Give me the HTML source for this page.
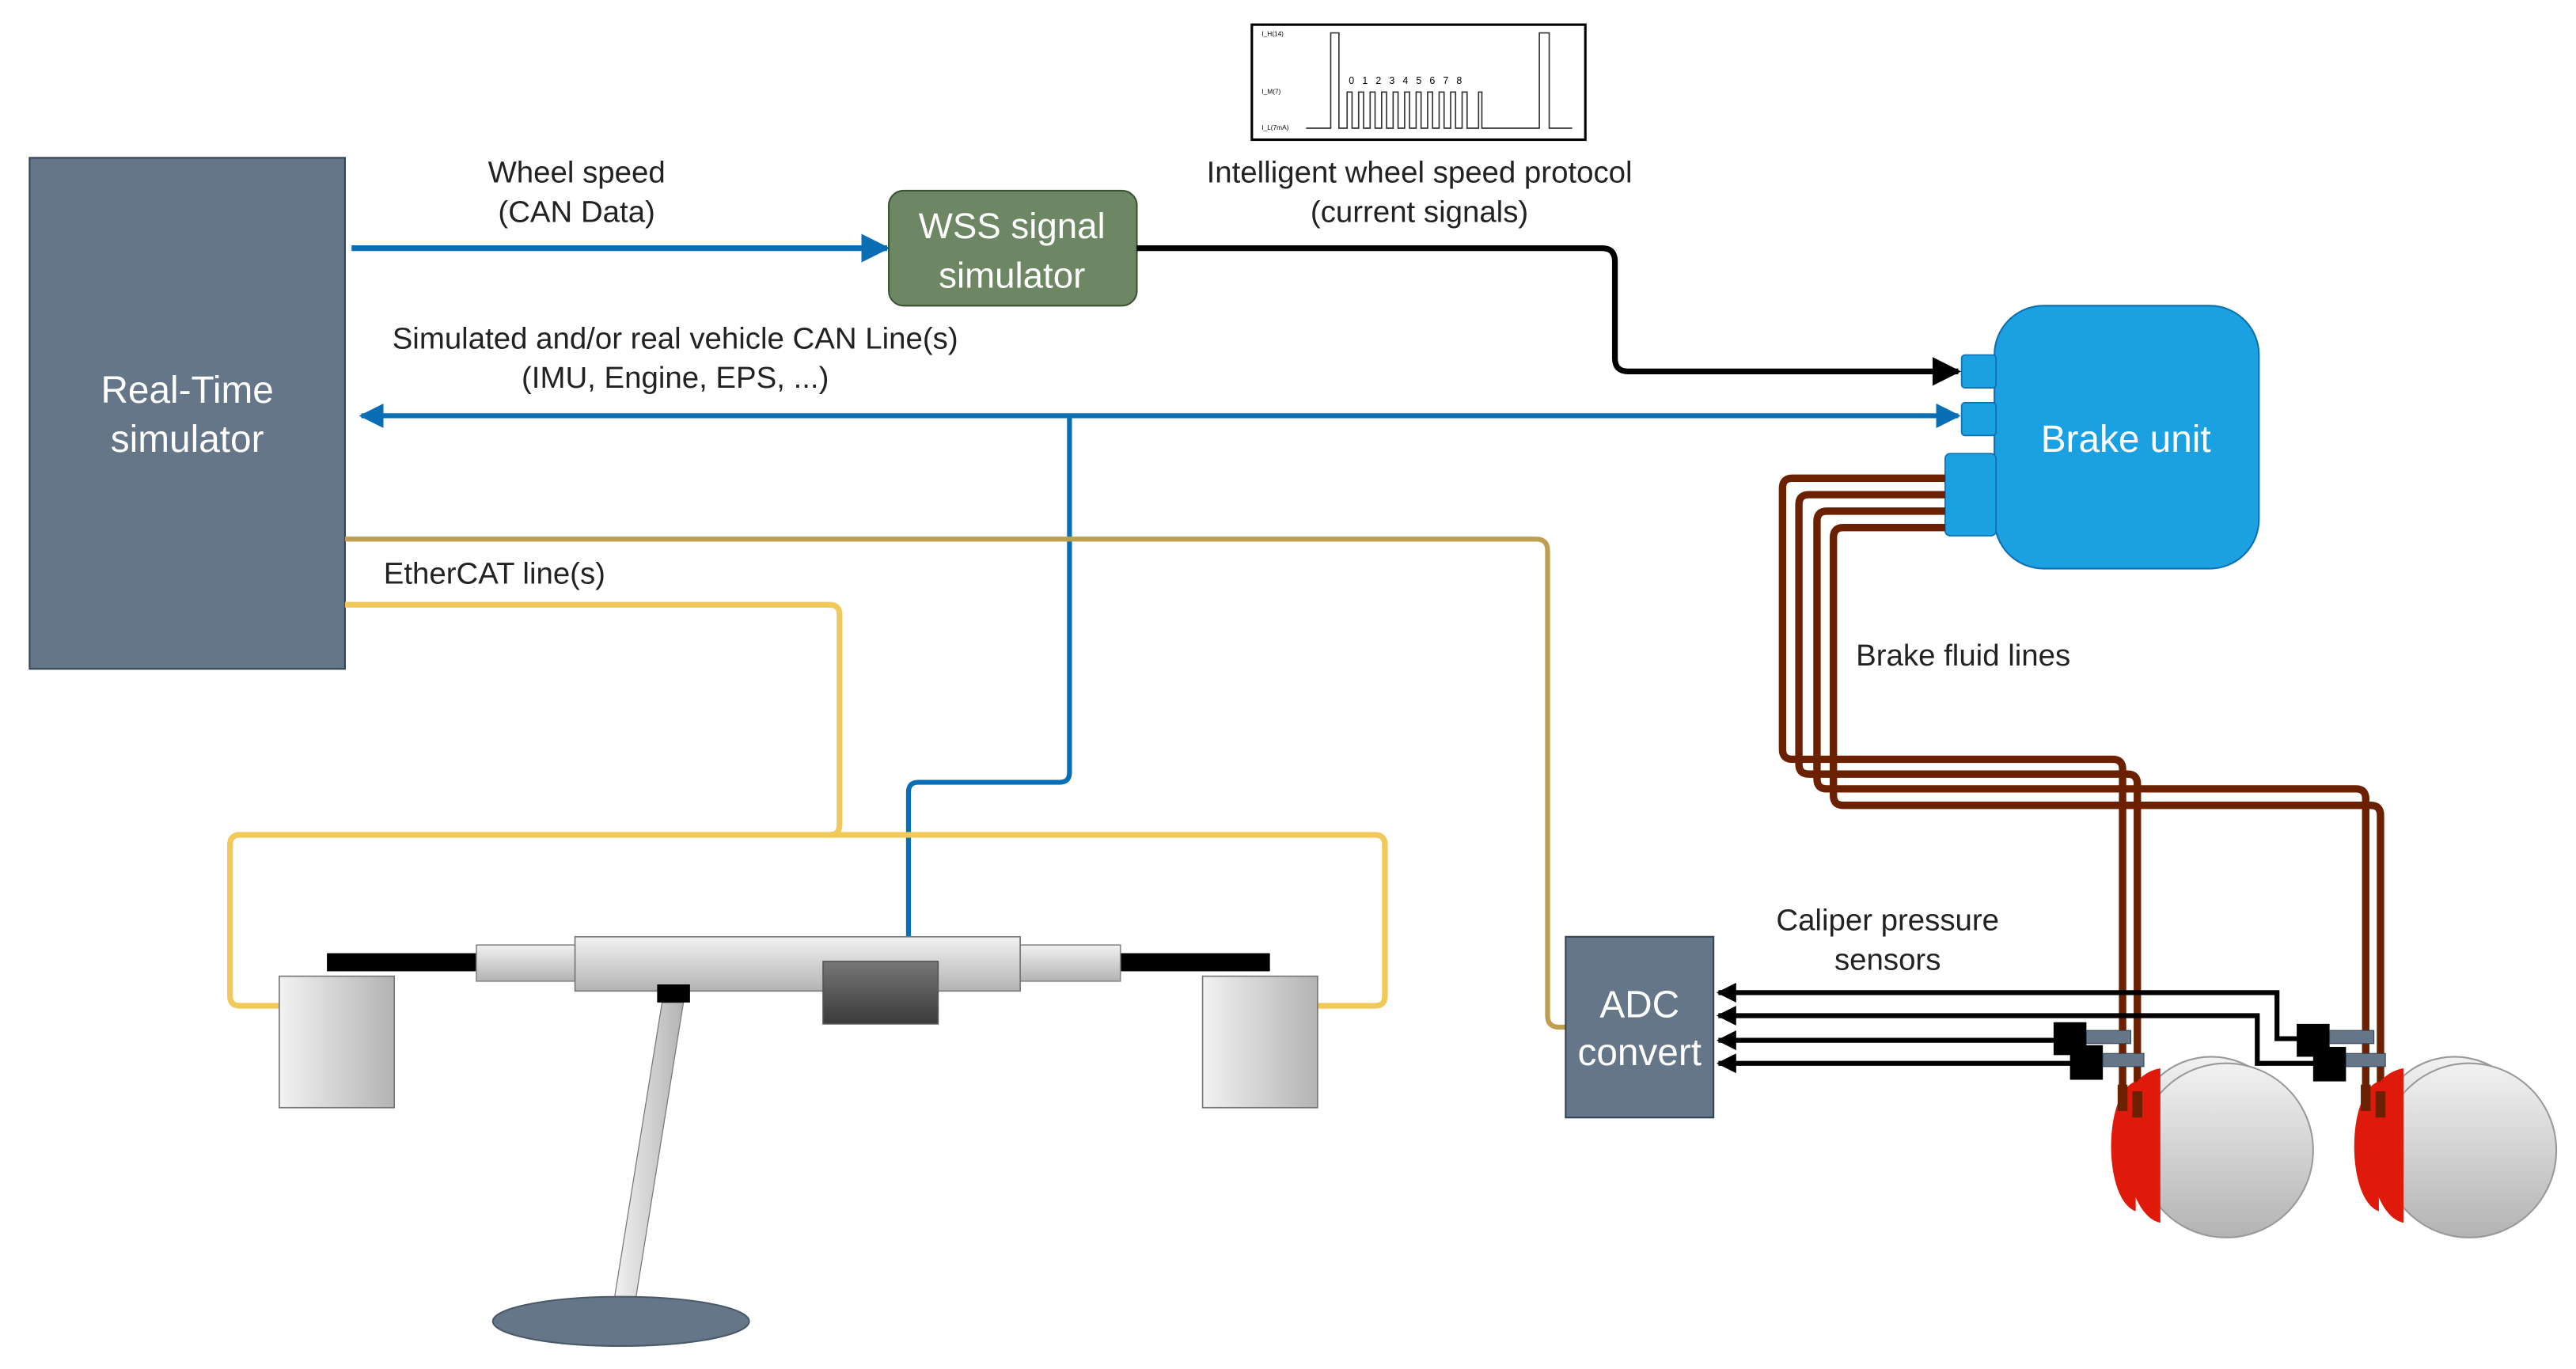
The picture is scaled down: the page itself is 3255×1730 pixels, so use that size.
<!DOCTYPE html>
<html><head><meta charset="utf-8"><style>html,body{margin:0;padding:0;background:#fff}svg{display:block}text{font-family:"Liberation Sans",Arial,sans-serif}</style></head>
<body>
<svg width="3255" height="1730" viewBox="0 0 1568 833" preserveAspectRatio="none" xmlns="http://www.w3.org/2000/svg">
<defs>
<linearGradient id="gv" x1="0" y1="0" x2="0" y2="1"><stop offset="0" stop-color="#f2f2f2"/><stop offset="1" stop-color="#b3b3b3"/></linearGradient>
<linearGradient id="gh" x1="0" y1="0" x2="1" y2="0"><stop offset="0" stop-color="#f2f2f2"/><stop offset="1" stop-color="#b3b3b3"/></linearGradient>
<linearGradient id="gd" x1="0" y1="0" x2="0" y2="1"><stop offset="0" stop-color="#777"/><stop offset="1" stop-color="#3a3a3a"/></linearGradient>
<marker id="ab" viewBox="0 0 10 10" refX="9" refY="5" markerWidth="5" markerHeight="5" orient="auto"><path d="M0,0L10,5L0,10z" fill="#0a6eb4"/></marker>
<marker id="ak" viewBox="0 0 10 10" refX="9" refY="5" markerWidth="5" markerHeight="5" orient="auto"><path d="M0,0L10,5L0,10z" fill="#000"/></marker>
<marker id="ak2" viewBox="0 0 10 10" refX="9" refY="5" markerWidth="4" markerHeight="4" orient="auto"><path d="M0,0L10,5L0,10z" fill="#000"/></marker>
</defs>

<rect x="762" y="15" width="203" height="70" fill="#fff" stroke="#000" stroke-width="1.5"/>
<path d="M795,78H810V20H815V78H820V56H823V78H827V56H830V78H834V56H837V78H841V56H844V78H848V56H851V78H855V56H858V78H862V56H865V78H869V56H872V78H876V56H879V78H883V56H886V78H890V56H893V78H900V56H902V78H937V20H943V78H957" fill="none" stroke="#333" stroke-width="0.8"/>
<text x="768" y="22" font-size="4">I_H(14)</text><text x="768" y="57" font-size="4">I_M(7)</text><text x="768" y="79" font-size="4">I_L(7mA)</text>
<text x="821" y="51" font-size="6" letter-spacing="1.6">0 1 2 3 4 5 6 7 8</text>

<rect x="18" y="96" width="192" height="311" fill="#647687" stroke="#314354" stroke-width="1"/>
<text x="114" y="245" font-size="23" fill="#fff" text-anchor="middle">Real-Time</text>
<text x="114" y="275" font-size="23" fill="#fff" text-anchor="middle">simulator</text>

<g font-size="18.5" fill="#222" text-anchor="middle">
<text x="351" y="111">Wheel speed</text><text x="351" y="135">(CAN Data)</text>
<text x="864" y="111">Intelligent wheel speed protocol</text><text x="864" y="135">(current signals)</text>
<text x="411" y="212">Simulated and/or real vehicle CAN Line(s)</text><text x="411" y="236">(IMU, Engine, EPS, ...)</text>
<text x="301" y="355">EtherCAT line(s)</text>
<text x="1195" y="405">Brake fluid lines</text>
<text x="1149" y="566">Caliper pressure</text><text x="1149" y="590">sensors</text>
</g>

<line x1="214" y1="151" x2="540" y2="151" stroke="#0a6eb4" stroke-width="3.5" marker-end="url(#ab)"/>
<line x1="1192" y1="253" x2="220" y2="253" stroke="#0a6eb4" stroke-width="3" marker-end="url(#ab)"/>
<line x1="220" y1="253" x2="1192" y2="253" stroke="#0a6eb4" stroke-width="3" marker-end="url(#ab)"/>
<path d="M651,253V470Q651,476 645,476H559Q553,476 553,482V585" fill="none" stroke="#0a6eb4" stroke-width="3"/>

<rect x="541" y="116" width="151" height="70" rx="9" fill="#6d8764" stroke="#3a5431" stroke-width="1"/>
<text x="616" y="145" font-size="22" fill="#fff" text-anchor="middle">WSS signal</text>
<text x="616" y="175" font-size="22" fill="#fff" text-anchor="middle">simulator</text>
<path d="M692,151H975Q983,151 983,159V218Q983,226 991,226H1192" fill="none" stroke="#000" stroke-width="3.5" marker-end="url(#ak)"/>

<path d="M210,328H935Q942,328 942,335V618Q942,625 949,625H953" fill="none" stroke="#bf9f4f" stroke-width="3"/>
<path d="M210,368H505Q511,368 511,374V502Q511,508 505,508H146Q140,508 140,514V606Q140,612 146,612H170" fill="none" stroke="#f0c95a" stroke-width="3.5"/>
<path d="M505,508H837Q843,508 843,514V606Q843,612 837,612H802" fill="none" stroke="#f0c95a" stroke-width="3.5"/>

<rect x="1214" y="186" width="161" height="160" rx="30" fill="#1ba1e2" stroke="#0b6fb0" stroke-width="1"/>
<rect x="1194" y="216" width="21" height="20" rx="2" fill="#1ba1e2" stroke="#0b6fb0" stroke-width="0.8"/>
<rect x="1194" y="245" width="21" height="20" rx="2" fill="#1ba1e2" stroke="#0b6fb0" stroke-width="0.8"/>
<rect x="1184" y="276" width="31" height="50" rx="3" fill="#1ba1e2" stroke="#0b6fb0" stroke-width="0.8"/>
<text x="1294" y="275" font-size="23" fill="#fff" text-anchor="middle">Brake unit</text>

<g fill="none" stroke="#6b2000" stroke-width="4.5">
<path d="M1184,291H1091Q1085,291 1085,297V456Q1085,462 1091,462H1286Q1292,462 1292,468V680"/>
<path d="M1184,301H1101Q1095,301 1095,307V465Q1095,471 1101,471H1295Q1301,471 1301,477V680"/>
<path d="M1184,311H1112Q1106,311 1106,317V474Q1106,480 1112,480H1434Q1440,480 1440,486V680"/>
<path d="M1184,321H1122Q1116,321 1116,327V484Q1116,490 1122,490H1443Q1449,490 1449,496V680"/>
</g>

<rect x="953" y="570" width="90" height="110" fill="#647687" stroke="#314354" stroke-width="1"/>
<text x="998" y="619" font-size="23" fill="#fff" text-anchor="middle">ADC</text>
<text x="998" y="648" font-size="23" fill="#fff" text-anchor="middle">convert</text>

<g fill="none" stroke="#000" stroke-width="3">
<path d="M1400,632H1386V604H1046" marker-end="url(#ak2)"/>
<path d="M1410,647H1374V618H1046" marker-end="url(#ak2)"/>
<path d="M1252,633H1046" marker-end="url(#ak2)"/>
<path d="M1262,647H1046" marker-end="url(#ak2)"/>
</g>

<g stroke="#999" stroke-width="1">
<circle cx="1346" cy="690" r="47" fill="url(#gv)"/>
<circle cx="1355" cy="700" r="53" fill="url(#gv)"/>
<circle cx="1494" cy="690" r="47" fill="url(#gv)"/>
<circle cx="1503" cy="700" r="53" fill="url(#gv)"/>
</g>
<g fill="#e01a0a">
<path d="M1300,658C1280,665 1280,730 1300,737Z"/><path d="M1315,650V744C1295,740 1288,690 1296,665Q1303,652 1315,650Z"/>
<path d="M1448,658C1428,665 1428,730 1448,737Z"/><path d="M1463,650V744C1443,740 1436,690 1444,665Q1451,652 1463,650Z"/>
</g>
<g fill="#6b2000"><rect x="1289" y="660" width="6" height="16"/><rect x="1298" y="664" width="6" height="16"/><rect x="1437" y="660" width="6" height="16"/><rect x="1446" y="664" width="6" height="16"/></g>
<g fill="#000"><rect x="1250" y="622" width="20" height="20"/><rect x="1260" y="636" width="20" height="21"/><rect x="1398" y="623" width="20" height="20"/><rect x="1408" y="637" width="20" height="21"/></g>
<g fill="#647687" stroke="#314354" stroke-width="0.5"><rect x="1270" y="627" width="27" height="8"/><rect x="1280" y="641" width="25" height="8"/><rect x="1418" y="627" width="27" height="8"/><rect x="1428" y="641" width="24" height="8"/></g>

<rect x="199" y="580" width="92" height="11" fill="#000"/>
<rect x="682" y="580" width="91" height="11" fill="#000"/>
<rect x="290" y="575" width="61" height="22" fill="url(#gv)" stroke="#888" stroke-width="0.8"/>
<rect x="621" y="575" width="61" height="22" fill="url(#gv)" stroke="#888" stroke-width="0.8"/>
<rect x="350" y="570" width="271" height="33" fill="url(#gv)" stroke="#777" stroke-width="0.8"/>
<rect x="501" y="585" width="70" height="38" fill="url(#gd)" stroke="#555" stroke-width="0.8"/>
<polygon points="403,610 416,610 387,790 374,790" fill="url(#gh)" stroke="#777" stroke-width="0.6"/>
<rect x="400" y="599" width="20" height="11" fill="#000"/>
<ellipse cx="378" cy="804" rx="78" ry="15" fill="#647687" stroke="#4a5968" stroke-width="1"/>
<rect x="170" y="594" width="70" height="80" fill="url(#gh)" stroke="#777" stroke-width="0.8"/>
<rect x="732" y="594" width="70" height="80" fill="url(#gh)" stroke="#777" stroke-width="0.8"/>
</svg>
</body></html>
